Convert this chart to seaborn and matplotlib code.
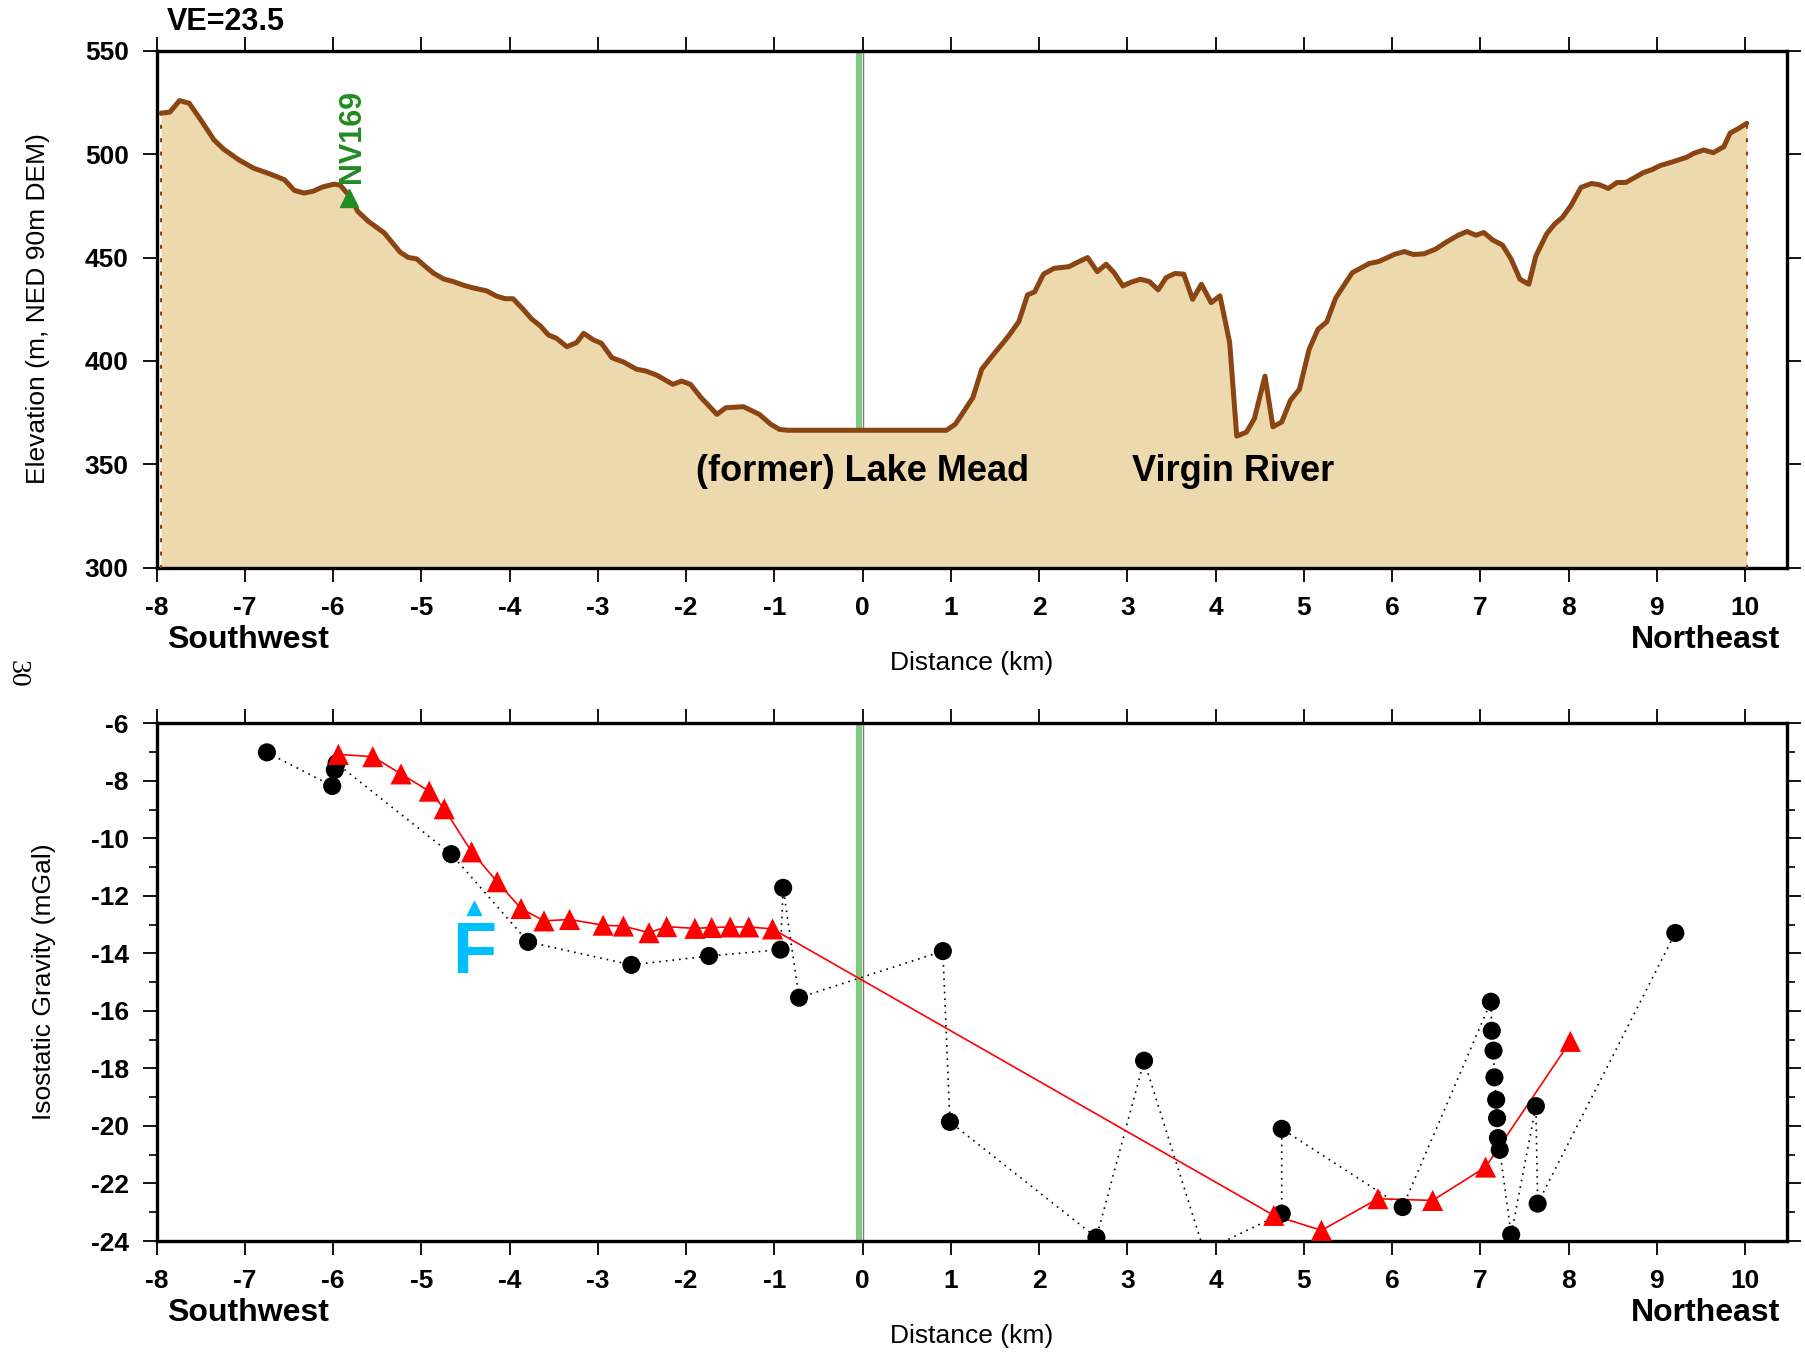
import numpy as np
import pandas as pd
import matplotlib
matplotlib.use("Agg")
import matplotlib.pyplot as plt
import seaborn as sns

sns.set_theme(style="white")
plt.rcParams['font.family'] = ['Liberation Sans', 'DejaVu Sans']
plt.rcParams['axes.unicode_minus'] = False
plt.rcParams['text.color'] = 'black'
plt.rcParams['axes.labelcolor'] = 'black'
plt.rcParams['xtick.color'] = 'black'
plt.rcParams['ytick.color'] = 'black'

# ---------------- data ----------------
profile_km = [-7.95, -7.85, -7.74, -7.63, -7.50, -7.35, -7.24, -7.07, -6.90, -6.72,
              -6.55, -6.44, -6.33, -6.23, -6.12, -5.99, -5.92, -5.81, -5.72, -5.60,
              -5.42, -5.24, -5.15, -5.05, -4.96, -4.86, -4.75, -4.64, -4.52, -4.41,
              -4.26, -4.15, -4.05, -3.96, -3.84, -3.75, -3.65, -3.56, -3.47, -3.35,
              -3.24, -3.16, -3.05, -2.96, -2.84, -2.71, -2.56, -2.46, -2.33, -2.15,
              -2.05, -1.95, -1.83, -1.65, -1.55, -1.35, -1.17, -1.04, -0.94, -0.84,
              0.00, 0.95, 1.05, 1.15, 1.25, 1.35, 1.48, 1.61, 1.67, 1.77,
              1.87, 1.95, 2.05, 2.17, 2.34, 2.43, 2.55, 2.66, 2.76, 2.85,
              2.95, 3.05, 3.15, 3.25, 3.35, 3.44, 3.54, 3.64, 3.74, 3.84,
              3.95, 4.05, 4.16, 4.24, 4.35, 4.44, 4.56, 4.65, 4.75, 4.85,
              4.95, 5.06, 5.16, 5.26, 5.36, 5.45, 5.55, 5.74, 5.85, 6.03,
              6.14, 6.24, 6.36, 6.49, 6.62, 6.75, 6.85, 6.95, 7.04, 7.14,
              7.25, 7.35, 7.45, 7.55, 7.63, 7.75, 7.84, 7.93, 8.03, 8.14,
              8.26, 8.35, 8.45, 8.55, 8.65, 8.75, 8.85, 8.94, 9.04, 9.19,
              9.34, 9.42, 9.53, 9.64, 9.76, 9.83, 9.93, 10.02]
profile_m = [519.8, 520.3, 525.9, 524.6, 516.6, 506.9, 502.4, 497.3, 493.2, 490.5,
             487.6, 482.5, 481.2, 482.0, 484.1, 485.5, 485.0, 479.6, 472.3, 467.5,
             461.9, 452.6, 450.1, 449.3, 445.9, 442.4, 439.7, 438.4, 436.6, 435.3,
             433.9, 431.4, 430.1, 430.1, 424.7, 420.3, 416.9, 412.6, 411.0, 406.9,
             408.9, 413.4, 410.2, 408.6, 401.6, 399.5, 396.0, 395.2, 393.1, 388.7,
             390.3, 388.7, 382.3, 374.2, 377.4, 377.9, 374.2, 369.4, 366.9, 366.5,
             366.5, 366.5, 369.4, 375.8, 382.3, 396.0, 403.0, 409.7, 413.0, 419.0,
             432.0, 433.4, 442.0, 444.8, 445.6, 447.6, 450.0, 443.2, 446.8, 442.7,
             436.3, 438.2, 439.5, 438.4, 434.4, 440.3, 442.3, 442.0, 429.8, 437.1,
             428.2, 431.5, 408.9, 363.7, 365.6, 372.1, 392.7, 368.2, 370.5, 381.1,
             386.3, 405.6, 415.3, 418.9, 430.3, 436.3, 442.7, 447.1, 448.1, 451.6,
             452.9, 451.5, 451.8, 454.0, 457.6, 460.8, 462.6, 460.8, 462.1, 458.5,
             456.1, 449.2, 439.5, 437.1, 450.8, 461.3, 466.1, 469.4, 475.3, 483.9,
             485.8, 485.2, 483.4, 486.3, 486.3, 488.7, 491.1, 492.4, 494.5, 496.4,
             498.5, 500.4, 502.0, 500.7, 503.6, 510.1, 512.5, 514.9]

# black circles (station order along dotted line)
circle_km = [-6.75, -6.01, -5.98, -5.96, -4.66, -3.79, -2.62, -1.74, -0.93, -0.90,
             -0.72, 0.91, 0.99, 2.65, 3.19, 3.87, 4.75, 4.75, 6.12, 7.12,
             7.13, 7.15, 7.16, 7.18, 7.19, 7.20, 7.22, 7.35, 7.63, 7.65, 9.21]
circle_mgal = [-7.01, -8.18, -7.62, -7.39, -10.55, -13.60, -14.40, -14.09, -13.87, -11.72,
               -15.54, -13.92, -19.86, -23.88, -17.73, -24.35, -23.05, -20.10, -22.82, -15.68,
               -16.69, -17.38, -18.31, -19.09, -19.73, -20.42, -20.83, -23.78, -19.31, -22.70, -13.29]

# red triangles
tri_km = [-5.94, -5.55, -5.23, -4.91, -4.74, -4.43, -4.14, -3.87, -3.61, -3.32,
          -2.94, -2.71, -2.42, -2.22, -1.90, -1.71, -1.50, -1.29, -1.02,
          4.66, 5.20, 5.84, 6.46, 7.06, 8.02]
tri_mgal = [-7.08, -7.16, -7.76, -8.36, -8.97, -10.47, -11.51, -12.44, -12.87, -12.82,
            -13.02, -13.05, -13.28, -13.07, -13.13, -13.10, -13.08, -13.08, -13.15,
            -23.11, -23.63, -22.53, -22.59, -21.43, -17.06]

# benchmark / fault markers
nv169_km, nv169_m = -5.82, 478.7
fault_km, fault_mgal_tri, fault_mgal_txt = -4.40, -12.42, -14.69
section_km = 0.0

x_ticks = list(range(-8, 11))
x_labels = [str(v) for v in x_ticks]
elev_ticks = [300, 350, 400, 450, 500, 550]
grav_ticks = list(range(-24, -5, 2))
grav_minor = list(range(-23, -6, 2))

# ---------------- style ----------------
BROWN = '#8B4513'
FILL = '#EDD9AE'
GREEN_BAR = '#80C980'
W, H = 1806, 1352
fig = plt.figure(figsize=(W / 100, H / 100), dpi=100)

ax1 = fig.add_axes([0.0867, 0.580, 0.9030, 0.3825])
ax2 = fig.add_axes([0.0867, 0.0821, 0.9030, 0.3829])

XMIN, XMAX = -8, 10.48

def style_axis(ax):
    for s in ax.spines.values():
        s.set_linewidth(2.4)
        s.set_color('black')
    ax.set_xlim(XMIN, XMAX)
    ax.set_xticks(x_ticks)
    ax.set_xticklabels(x_labels, fontweight='bold', fontsize=19)
    ax.tick_params(axis='both', which='major', direction='out', length=10, width=1.3,
                   pad=10, top=True, right=True, left=True, bottom=True,
                   labeltop=False, labelright=False, color='black', labelcolor='black')
    ax.tick_params(axis='both', which='minor', direction='out', length=5.5, width=1.2,
                   left=True, right=True, color='black')
    ax.grid(False)
    ax.set_facecolor('white')
    ax.set_xlabel('')
    ax.set_ylabel('')

# ---------------- top panel ----------------
prof = pd.DataFrame({'km': profile_km, 'm': profile_m})
ax1.set_ylim(300, 550)
ax1.plot([section_km - 0.035, section_km - 0.035], [300, 550], color=GREEN_BAR, lw=4.4, zorder=1)
ax1.plot([section_km, section_km], [300, 550], color='#7f7f7f', lw=1.0, zorder=1)
ax1.fill_between(prof['km'], prof['m'], 300, color=FILL, lw=0, zorder=2)
sns.lineplot(data=prof, x='km', y='m', sort=False, estimator=None, ax=ax1,
             color=BROWN, lw=3.6, zorder=4)
for xe, ye in [(profile_km[0], profile_m[0]), (profile_km[-1], profile_m[-1])]:
    ax1.plot([xe, xe], [300, ye], color=BROWN, lw=1.6, ls=(0, (1, 5)),
             dash_capstyle='round', zorder=3)
ax1.plot([nv169_km], [nv169_m], marker='^', ms=13, color='#228B22', ls='none', zorder=5)
ax1.text(nv169_km + 0.03, 486, 'NV169', rotation=90, color='#228B22', fontsize=22,
         fontweight='bold', ha='center', va='bottom', zorder=5)
ax1.text(0.0, 341.9, '(former) Lake Mead', fontsize=26, fontweight='bold',
         ha='center', va='baseline', zorder=5)
ax1.text(4.20, 341.9, 'Virgin River', fontsize=26, fontweight='bold',
         ha='center', va='baseline', zorder=5)
style_axis(ax1)
ax1.set_yticks(elev_ticks)
ax1.set_yticklabels([str(v) for v in elev_ticks], fontweight='bold', fontsize=19)

# ---------------- bottom panel ----------------
circ = pd.DataFrame({'km': circle_km, 'mgal': circle_mgal})
tri = pd.DataFrame({'km': tri_km, 'mgal': tri_mgal})
ax2.set_ylim(-24, -6)
ax2.plot([section_km - 0.035, section_km - 0.035], [-24, -6], color=GREEN_BAR, lw=4.4, zorder=1)
ax2.plot([section_km, section_km], [-24, -6], color='#7f7f7f', lw=1.0, zorder=1)
sns.lineplot(data=circ, x='km', y='mgal', sort=False, estimator=None, ax=ax2,
             color='black', lw=1.2, ls=(0, (1, 3)), zorder=2)
sns.lineplot(data=tri, x='km', y='mgal', sort=False, estimator=None, ax=ax2,
             color='#FF0000', lw=1.2, zorder=3)
sns.scatterplot(data=circ, x='km', y='mgal', ax=ax2, marker='o', s=170,
                color='black', edgecolor='none', zorder=4)
sns.scatterplot(data=tri, x='km', y='mgal', ax=ax2, marker='^', s=230,
                color='#FF0000', edgecolor='none', zorder=5)
ax2.plot([fault_km], [fault_mgal_tri], marker='^', ms=10, color='#00BFFF', ls='none', zorder=6)
ax2.text(fault_km, fault_mgal_txt, 'F', color='#00BFFF', fontsize=52, fontweight='bold',
         ha='center', va='baseline', zorder=6)
style_axis(ax2)
ax2.set_yticks(grav_ticks)
ax2.set_yticklabels([str(v) for v in grav_ticks], fontweight='bold', fontsize=19)
ax2.set_yticks(grav_minor, minor=True)

# ---------------- annotations ----------------
for ax in (ax1, ax2):
    ax.text(0.0064, -0.155, 'Southwest', transform=ax.transAxes, fontsize=23,
            fontweight='bold', ha='left', va='baseline')
    ax.text(0.9958, -0.155, 'Northeast', transform=ax.transAxes, fontsize=23,
            fontweight='bold', ha='right', va='baseline')
    ax.text(0.5, -0.197, 'Distance (km)', transform=ax.transAxes, fontsize=19,
            ha='center', va='baseline')

fig.text(38 / W, 1 - 309 / H, 'Elevation (m, NED 90m DEM)', rotation=90, fontsize=19,
         ha='center', va='center')
fig.text(44 / W, 1 - 982 / H, 'Isostatic Gravity (mGal)', rotation=90, fontsize=19,
         ha='center', va='center')
fig.text(167 / W, 1 - 30 / H, 'VE=23.5', fontsize=22, fontweight='bold',
         ha='left', va='baseline')
fig.text(17 / W, 0.5015, '30', rotation=-90, fontsize=20, family='Liberation Serif',
         ha='center', va='center')

fig.savefig('out.png', dpi=100, facecolor='white')
